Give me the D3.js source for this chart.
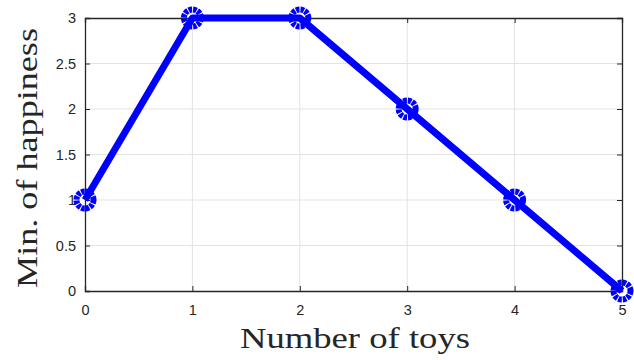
<!DOCTYPE html>
<html>
<head>
<meta charset="utf-8">
<script src="https://cdn.jsdelivr.net/npm/d3@7"></script>
<style>
  body { margin: 0; background: white; }
</style>
</head>
<body>
<div id="chart"></div>
<script>
const toys = [0, 1, 2, 3, 4, 5];
const happiness = [1, 3, 3, 2, 1, 0];
const xTicks = [0, 1, 2, 3, 4, 5];
const yTicks = [0, 0.5, 1, 1.5, 2, 2.5, 3];

const wSvg = 634;
const hSvg = 360;
const padLeft = 85, padRight = 622, padTop = 18, padBottom = 291;

const x = d3.scaleLinear([0, 5], [padLeft, padRight]);
const y = d3.scaleLinear([0, 3], [padBottom, padTop]);

const svg = d3.select("#chart").append("svg")
    .attr("width", wSvg)
    .attr("height", hSvg);

// grid
svg.append("g").selectAll("line").data(xTicks.slice(1, -1)).join("line")
    .attr("x1", d => x(d)).attr("x2", d => x(d))
    .attr("y1", padTop).attr("y2", padBottom)
    .attr("stroke", "#e3e3e3").attr("stroke-width", 1);
svg.append("g").selectAll("line").data(yTicks.slice(1, -1)).join("line")
    .attr("x1", padLeft).attr("x2", padRight)
    .attr("y1", d => y(d)).attr("y2", d => y(d))
    .attr("stroke", "#e3e3e3").attr("stroke-width", 1);

// axes with inward ticks
const xAxis = d3.axisBottom(x).tickValues(xTicks).tickSize(-5).tickPadding(14).tickFormat(d3.format("d"));
const yAxis = d3.axisLeft(y).tickValues(yTicks).tickSize(-5).tickPadding(9).tickFormat(d => d);

svg.append("g").attr("transform", `translate(0,${padBottom})`).call(xAxis);
svg.append("g").attr("transform", `translate(${padLeft},0)`).call(yAxis);
svg.append("g").attr("transform", `translate(0,${padTop})`)
    .call(d3.axisTop(x).tickValues(xTicks).tickSize(-5).tickFormat(""));
svg.append("g").attr("transform", `translate(${padRight},0)`)
    .call(d3.axisRight(y).tickValues(yTicks).tickSize(-5).tickFormat(""));

svg.selectAll(".domain").attr("stroke", "#262626").attr("stroke-width", 1.3);
svg.selectAll(".tick line").attr("stroke", "#262626");
svg.selectAll(".tick text")
    .attr("fill", "#262626")
    .style("font-family", "'Liberation Sans', Arial, sans-serif")
    .style("font-size", "14.5px");

// line
svg.append("path")
    .datum(toys.map((t, i) => [t, happiness[i]]))
    .attr("fill", "none")
    .attr("stroke", "#0000ff")
    .attr("stroke-width", 7)
    .attr("stroke-linejoin", "round")
    .attr("d", d3.line(d => x(d[0]), d => y(d[1])));

// markers
svg.append("g").selectAll("circle")
    .data(toys.map((t, i) => [t, happiness[i]]))
    .join("circle")
    .attr("cx", d => x(d[0]))
    .attr("cy", d => y(d[1]))
    .attr("r", 8.5)
    .attr("fill", "none")
    .attr("stroke", "#0000ff")
    .attr("stroke-width", 6)
    .attr("stroke-dasharray", "3.5 1");

// axis labels
svg.append("text")
    .attr("x", 355)
    .attr("y", 348)
    .attr("text-anchor", "middle")
    .attr("fill", "#262626")
    .attr("textLength", 230)
    .attr("lengthAdjust", "spacingAndGlyphs")
    .style("font-family", "'Liberation Serif', serif")
    .style("font-size", "30px")
    .text("Number of toys");

svg.append("text")
    .attr("transform", `translate(37,158) rotate(-90)`)
    .attr("text-anchor", "middle")
    .attr("fill", "#262626")
    .attr("textLength", 260)
    .attr("lengthAdjust", "spacingAndGlyphs")
    .style("font-family", "'Liberation Serif', serif")
    .style("font-size", "30px")
    .text("Min. of happiness");
</script>
</body>
</html>
